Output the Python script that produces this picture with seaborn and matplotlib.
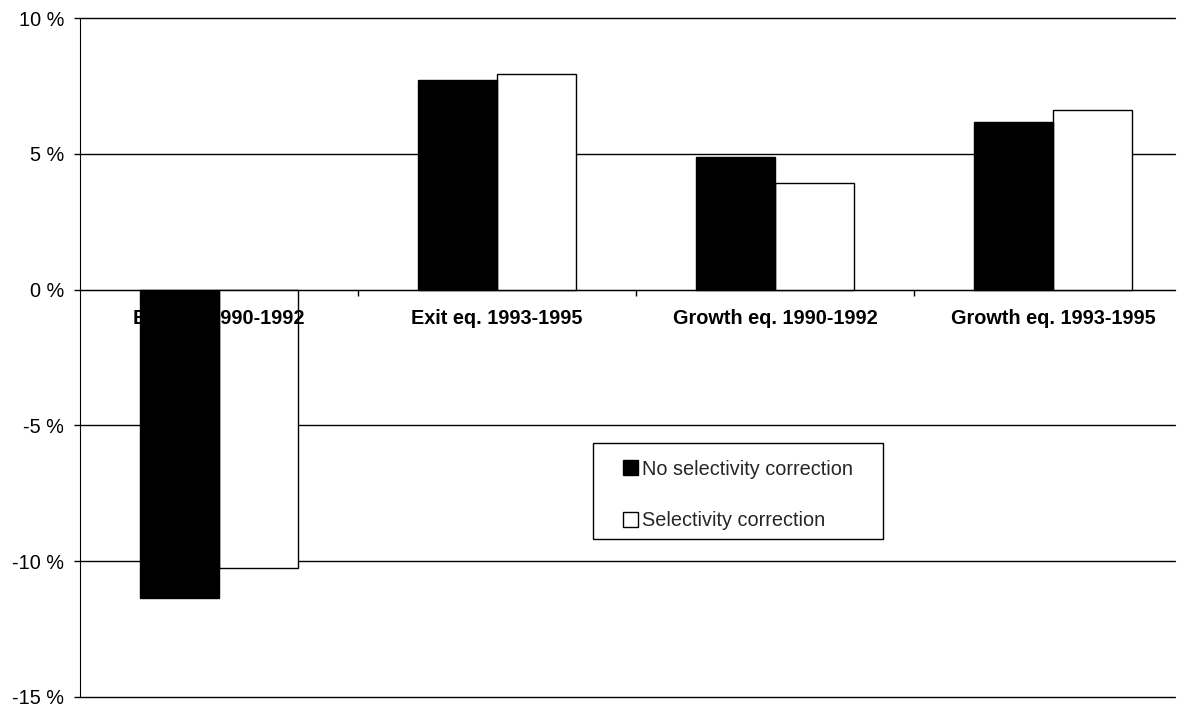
import pandas as pd
import matplotlib.pyplot as plt
import seaborn as sns
from matplotlib.patches import Rectangle
from matplotlib.ticker import FixedLocator, FuncFormatter

# Daten
categories = ['Exit eq. 1990-1992', 'Exit eq. 1993-1995',
              'Growth eq. 1990-1992', 'Growth eq. 1993-1995']
no_correction = [-11.35, 7.72, 4.87, 6.16]
with_correction = [-10.25, 7.93, 3.91, 6.6]
series_names = ['No selectivity correction', 'Selectivity correction']

df = pd.DataFrame({
    'cat': categories * 2,
    'value': no_correction + with_correction,
    'series': [series_names[0]] * 4 + [series_names[1]] * 4,
})

sns.set_style("white")
plt.rcParams['font.family'] = ['Liberation Sans', 'DejaVu Sans']
fs = 14.3

fig = plt.figure(figsize=(11.85, 7.1), dpi=100)
ax = fig.add_axes([80 / 1185, 13 / 710, 1095 / 1185, 679 / 710])

sns.barplot(data=df, x='cat', y='value', hue='series',
            palette=['black', 'white'], edgecolor='black', linewidth=1,
            width=0.57, saturation=1, ax=ax)

# Reihenfolge: Gitter < weisse Balken < Beschriftung < schwarze Balken
for bar in ax.containers[0]:
    bar.set_zorder(3)
for bar in ax.containers[1]:
    bar.set_zorder(1.5)
ax.yaxis.set_zorder(0.5)
ax.xaxis.set_zorder(2)

ax.set_ylim(-15, 10)
ax.set_xlim(-0.5, -0.5 + 1095 / 278)
ax.yaxis.set_major_locator(FixedLocator([-15, -10, -5, 0, 5, 10]))
ax.yaxis.set_major_formatter(FuncFormatter(lambda v, p: f'{int(v)} %'))
ax.grid(axis='y', color='black', linewidth=1)
ax.grid(axis='x', visible=False)
for gl in ax.get_ygridlines():
    gl.set_clip_on(False)

for s in ['top', 'right']:
    ax.spines[s].set_visible(False)
ax.spines['left'].set_color('black')
ax.spines['bottom'].set_color('black')
ax.spines['bottom'].set_position(('data', 0))

ax.tick_params(axis='y', which='major', left=True, length=4.5, width=1,
               direction='out', labelsize=fs, colors='black', pad=7)
ax.tick_params(axis='x', which='major', bottom=True, length=0,
               labelsize=fs, pad=14, colors='black')
ax.xaxis.set_minor_locator(FixedLocator([0.5, 1.5, 2.5]))
ax.tick_params(axis='x', which='minor', bottom=True, length=4.5, width=1,
               direction='out', color='black')
for lbl in ax.get_xticklabels():
    lbl.set_fontweight('bold')

ax.set_xlabel('')
ax.set_ylabel('')

# Legende mit eigenem Rahmen
handles, labels = ax.get_legend_handles_labels()
leg = ax.legend(handles, labels, loc='center',
                bbox_to_anchor=(738 / 1185, 1 - 495 / 710),
                bbox_transform=fig.transFigure, fontsize=fs,
                frameon=False, labelspacing=1.65,
                handlelength=0.75, handleheight=0.75, handletextpad=0.2,
                borderpad=0, borderaxespad=0)
leg.set_zorder(6)
frame = Rectangle((593 / 1185, 1 - 539 / 710), 290 / 1185, 96 / 710,
                  transform=fig.transFigure, facecolor='white',
                  edgecolor='black', linewidth=1, zorder=5, clip_on=False)
ax.add_patch(frame)

plt.savefig('out.png', dpi=100)
plt.close()
